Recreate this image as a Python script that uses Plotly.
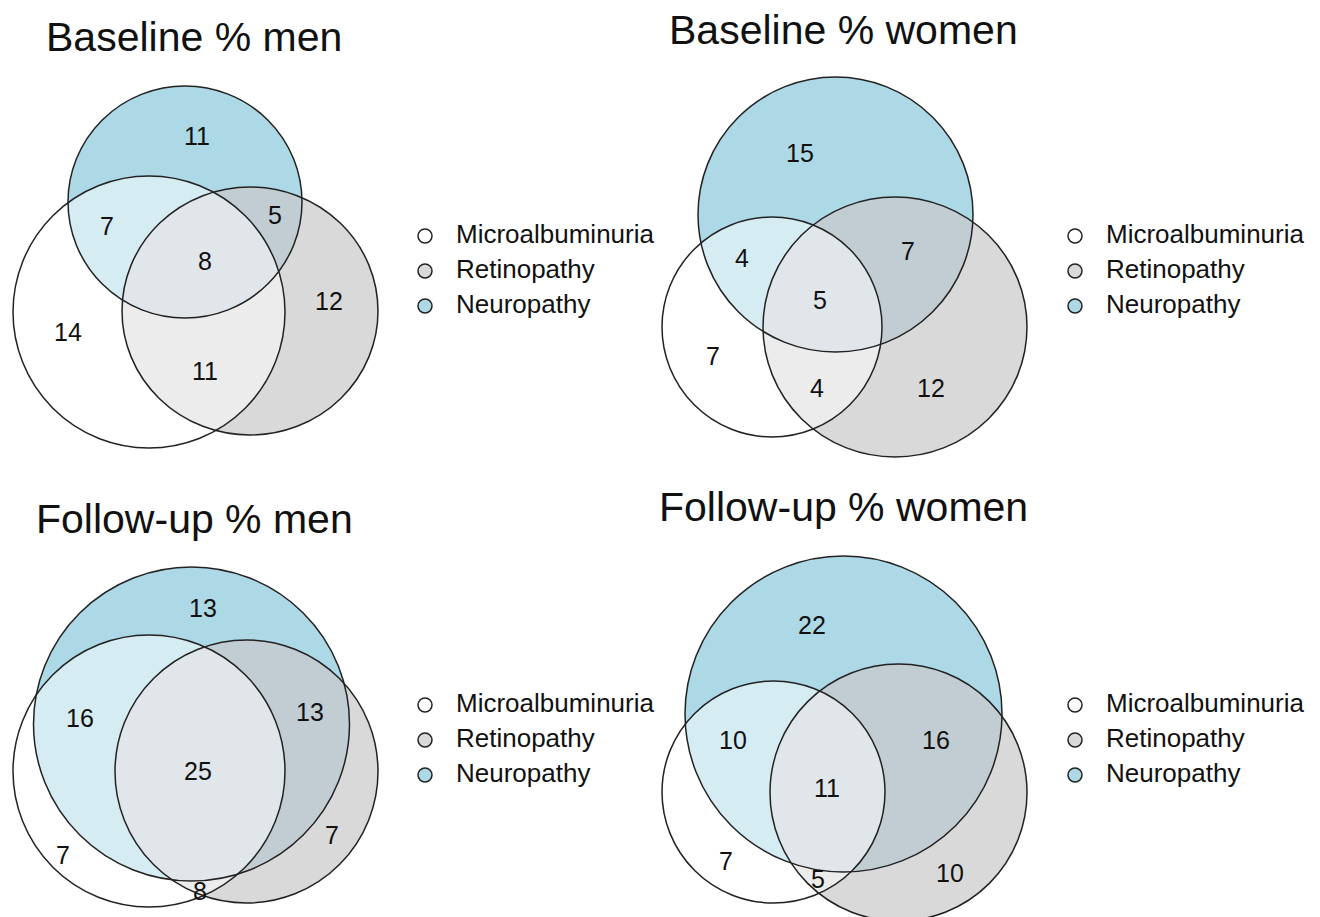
import plotly.graph_objects as go

# ---------------- data ----------------
panel_titles = ["Baseline % men", "Baseline % women", "Follow-up % men", "Follow-up % women"]
set_names = ["Microalbuminuria", "Retinopathy", "Neuropathy"]
region_keys = ["M", "R", "N", "MN", "NR", "MR", "MRN"]
baseline_men = [14, 12, 11, 7, 5, 11, 8]
baseline_women = [7, 12, 15, 4, 7, 4, 5]
followup_men = [7, 7, 13, 16, 13, 8, 25]
followup_women = [7, 10, 22, 10, 16, 5, 11]
panel_values = [baseline_men, baseline_women, followup_men, followup_women]

# ---------------- geometry (pixel layout, not data) ----------------
# circles: (cx, cy, rx, ry) for Microalbuminuria, Retinopathy, Neuropathy
circles = [
    {"M": (149, 312, 136, 136), "R": (250, 311, 128, 124), "N": (185, 202, 117, 116)},
    {"M": (772, 327, 110, 110), "R": (895, 327, 132, 130), "N": (835.5, 214.5, 137.5, 137.5)},
    {"M": (149, 771, 136, 136), "R": (246.5, 771.5, 131.5, 131.5), "N": (191.5, 724, 158, 157)},
    {"M": (773.5, 792, 111.5, 111), "R": (898.5, 792.5, 128.5, 128.5), "N": (843.5, 714, 158.5, 158)},
]
label_pos = [
    {"M": (68, 335), "R": (329, 304), "N": (197, 139), "MN": (107, 229), "NR": (275, 218), "MR": (205, 374), "MRN": (205, 264)},
    {"M": (713, 359), "R": (931, 391), "N": (800, 156), "MN": (742, 261), "NR": (908, 254), "MR": (817, 391), "MRN": (820, 303)},
    {"M": (63, 858), "R": (332, 838), "N": (203, 611), "MN": (80, 721), "NR": (310, 715), "MR": (200, 894), "MRN": (198, 774)},
    {"M": (726, 864), "R": (950, 876), "N": (812, 628), "MN": (733, 743), "NR": (936, 743), "MR": (818, 882), "MRN": (827, 791)},
]
title_pos = [(194, 37), (843, 30), (194, 519), (843, 507)]
legend_pos = [(425, [236, 271, 306]), (1075, [236, 271, 306]),
              (425, [705, 740, 775]), (1075, [705, 740, 775])]

FONT = "Liberation Sans, Arial, sans-serif"
OUTLINE = "#222222"

fig = go.Figure()
shapes = []


def ellipse(c, **kw):
    cx, cy, rx, ry = c
    d = dict(type="circle", xref="x", yref="y",
             x0=cx - rx, x1=cx + rx, y0=cy - ry, y1=cy + ry)
    d.update(kw)
    return d


for p in range(4):
    circ = circles[p]
    shapes.append(ellipse(circ["N"], fillcolor="rgb(173,216,230)", opacity=1,
                          line=dict(width=0), layer="below"))
    shapes.append(ellipse(circ["R"], fillcolor="rgb(201,201,201)", opacity=0.7,
                          line=dict(width=0), layer="below"))
    shapes.append(ellipse(circ["M"], fillcolor="rgb(255,255,255)", opacity=0.5,
                          line=dict(width=0), layer="below"))
    for k in ["N", "R", "M"]:
        shapes.append(ellipse(circ[k], fillcolor="rgba(0,0,0,0)",
                              line=dict(color=OUTLINE, width=1.5), layer="below"))

    vals = panel_values[p]
    xs = [label_pos[p][k][0] for k in region_keys]
    ys = [label_pos[p][k][1] for k in region_keys]
    fig.add_trace(go.Scatter(x=xs, y=ys, mode="text", text=[str(v) for v in vals],
                             textposition="middle center",
                             textfont=dict(family=FONT, size=25, color="#111111"),
                             hoverinfo="skip", showlegend=False))

    tx, ty = title_pos[p]
    fig.add_annotation(x=tx, y=ty, xref="x", yref="y", text=panel_titles[p],
                       showarrow=False, xanchor="center", yanchor="middle",
                       font=dict(family=FONT, size=41, color="#111111"))

    lx, lys = legend_pos[p]
    fig.add_trace(go.Scatter(x=[lx] * 3, y=lys, mode="markers",
                             marker=dict(size=14, symbol="circle",
                                         color=["white", "rgb(217,217,217)", "rgb(173,216,230)"],
                                         line=dict(color=OUTLINE, width=1.5)),
                             hoverinfo="skip", showlegend=False))
    fig.add_trace(go.Scatter(x=[lx + 31] * 3, y=lys, mode="text", text=set_names,
                             textposition="middle right",
                             textfont=dict(family=FONT, size=26, color="#111111"),
                             hoverinfo="skip", showlegend=False))

fig.update_layout(
    width=1320, height=917, autosize=False,
    margin=dict(l=0, r=0, t=0, b=0),
    paper_bgcolor="white", plot_bgcolor="white",
    shapes=shapes,
    xaxis=dict(range=[0, 1320], visible=False, fixedrange=True),
    yaxis=dict(range=[917, 0], visible=False, fixedrange=True),
    showlegend=False,
)

fig.write_html("out.html", config={"displayModeBar": False},
               post_script="document.body.style.margin='0';document.body.style.overflow='hidden';")
